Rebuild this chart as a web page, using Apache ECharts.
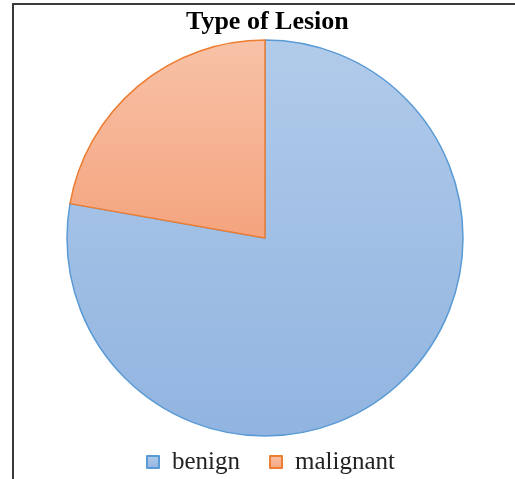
<!DOCTYPE html>
<html>
<head>
<meta charset="utf-8">
<script src="https://cdn.jsdelivr.net/npm/echarts@6/dist/echarts.min.js"></script>
<style>html,body{margin:0;padding:0;background:#fff;}#c{width:515px;height:479px;}</style>
</head>
<body>
<div id="c"></div>
<script>
const categories = ['benign', 'malignant'];
const values = [35, 10];
const titleText = 'Type of Lesion';

const fills = [
  ['#b1cbea', '#91b4e0'],
  ['#f8c2a8', '#f4a47e']
];
const borders = ['#5b9bd5', '#ed7d31'];

const chart = echarts.init(document.getElementById('c'), null, {renderer: 'canvas'});
chart.setOption({
  animation: false,
  backgroundColor: '#fff',
  title: {
    text: titleText,
    left: 181,
    top: 4,
    textStyle: {fontFamily: 'Liberation Serif', fontWeight: 'bold', fontSize: 26, color: '#000'}
  },
  graphic: [{
    type: 'rect',
    shape: {x: 13, y: 4, width: 700, height: 700},
    style: {fill: 'none', stroke: '#3a3a3a', lineWidth: 2},
    silent: true
  }],
  legend: {
    top: 444,
    left: 141,
    icon: 'rect',
    itemWidth: 12,
    itemHeight: 12,
    itemGap: 29,
    textStyle: {fontFamily: 'Liberation Serif', fontSize: 25, lineHeight: 26, color: '#222', padding: [0, 0, 0, 8]},
    data: categories
  },
  series: [{
    type: 'pie',
    center: [265, 238],
    radius: 198,
    startAngle: 90,
    clockwise: true,
    label: {show: false},
    labelLine: {show: false},
    emphasis: {disabled: true},
    data: categories.map((name, i) => ({
      name,
      value: values[i],
      itemStyle: {
        color: new echarts.graphic.LinearGradient(0, 0, 0, 1, [
          {offset: 0, color: fills[i][0]},
          {offset: 1, color: fills[i][1]}
        ]),
        borderColor: borders[i],
        borderWidth: 1.5
      }
    }))
  }]
});
</script>
</body>
</html>
